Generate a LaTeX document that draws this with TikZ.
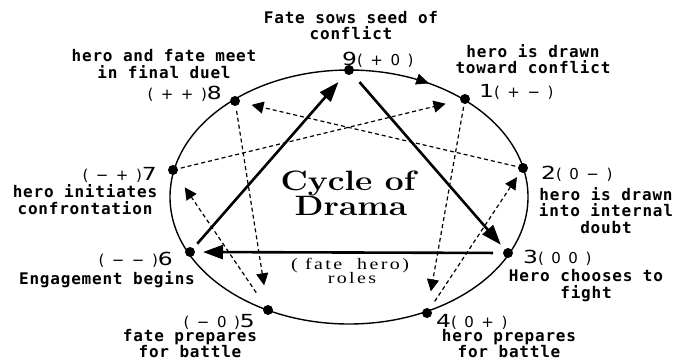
\documentclass[tikz,border=0pt]{standalone}
\usepackage{fontspec}
\usetikzlibrary{arrows.meta,decorations.markings}
\newfontfamily\labf[LetterSpace=5]{DejaVu Sans Mono}
\newfontfamily\numf[FakeStretch=1.3]{DejaVu Sans}
\newfontfamily\parf[LetterSpace=50]{DejaVu Sans}
\newfontfamily\rolef[FakeStretch=1.25,LetterSpace=15]{Liberation Serif}
\newcommand\Dnum[1]{{\numf\fontsize{18}{18}\selectfont #1}}
\newcommand\Psig[1]{{\parf\fontsize{15}{15}\selectfont #1}}
\tikzset{
  lab/.style={font=\labf\bfseries\fontsize{16}{16.5}\selectfont, align=center, inner sep=0pt, anchor=base},
  numlab/.style={inner sep=0pt},
  dot/.style={circle, fill=black, inner sep=0pt, minimum size=10pt},
  hard/.style={line width=2.6pt, -{Triangle[length=20pt,width=14pt]}},
  soft/.style={line width=1.2pt, dash pattern=on 4pt off 3pt, -{Triangle[length=12pt,width=12pt]}},
  title/.style={font=\bfseries\fontsize{28}{28}\selectfont, inner sep=0pt, anchor=base},
  role/.style={font=\rolef\fontsize{16}{16}\selectfont, inner sep=0pt, anchor=base},
}
\begin{document}
\begin{tikzpicture}[x=1pt,y=-1pt]
\useasboundingbox (0,0) rectangle (676,361);
% circle
\draw[line width=1.4pt] (349,197) ellipse [x radius=179, y radius=127];
% dots
\node[dot] (d9) at (349,70) {};
\node[dot] (d1) at (465,99) {};
\node[dot] (d2) at (523,168) {};
\node[dot] (d3) at (508,253) {};
\node[dot] (d4) at (427,313) {};
\node[dot] (d5) at (268,310) {};
\node[dot] (d6) at (190,252) {};
\node[dot] (d7) at (173,170) {};
\node[dot] (d8) at (235,101) {};
% arc arrow 9 -> 1
\path[decoration={markings, mark=at position 0.68 with {\arrow{Triangle[length=13pt,width=11pt]}}}, decorate]
  (d9.center) arc[start angle=-90, end angle=-50, x radius=179, y radius=127];
% triangle
\draw[hard, shorten <=16pt, shorten >=11pt] (d9.center) -- (d3.center);
\draw[hard, shorten <=15pt, shorten >=13pt] (d3.center) -- (d6.center);
\draw[hard, shorten <=11pt, shorten >=16pt] (d6.center) -- (d9.center);
% hexad
\draw[soft, shorten <=8pt, shorten >=22pt] (d1.center) -- (d4.center);
\draw[soft, shorten <=14pt, shorten >=11pt] (d4.center) -- (d2.center);
\draw[soft, shorten <=8pt, shorten >=17pt] (d2.center) -- (d8.center);
\draw[soft, shorten <=10pt, shorten >=25pt] (d8.center) -- (d5.center);
\draw[soft, shorten <=21pt, shorten >=21pt] (d5.center) -- (d7.center);
\draw[soft, shorten <=8pt, shorten >=20pt] (d7.center) -- (d1.center);
% number labels
\node[numlab, anchor=base west] (n9) at (342,65) {\Dnum{9}\Psig{(+0)}};
\node[numlab, anchor=base west] (n1) at (479,97) {\Dnum{1}\Psig{(+−)}};
\node[numlab, anchor=base west] (n2) at (541,179) {\Dnum{2}\Psig{(0−)}};
\node[numlab, anchor=base west] (n3) at (523,263) {\Dnum{3}\Psig{(00)}};
\node[numlab, anchor=base west] (n4) at (436,327) {\Dnum{4}\Psig{(0+)}};
\node[numlab, anchor=base east] (n5) at (255,327) {\Psig{(−0)}\Dnum{5}};
\node[numlab, anchor=base east] (n6) at (173,265) {\Psig{(−−)}\Dnum{6}};
\node[numlab, anchor=base east] (n7) at (157,180) {\Psig{(−+)}\Dnum{7}};
\node[numlab, anchor=base east] (n8) at (222,99) {\Psig{(++)}\Dnum{8}};
% text labels (anchor = baseline of the last line)
\node[lab] (t9) at (351,40) {Fate sows seed of\\conflict};
\node[lab] (t8) at (164,78) {hero and fate meet\\in final duel};
\node[lab] (t1) at (533,74) {hero is drawn\\toward conflict};
\node[lab] (t2) at (606,233) {hero is drawn\\into internal\\doubt};
\node[lab] (t3) at (586,298) {Hero chooses to\\fight};
\node[lab] (t4) at (509,357.5) {hero prepares\\for battle};
\node[lab] (t5) at (190,357.5) {fate prepares\\for battle};
\node[lab] (t6) at (107,284) {Engagement begins};
\node[lab] (t7) at (85,214) {hero initiates\\confrontation};
% center
\node[title] (c1) at (348,190) {\scalebox{1.2}[1]{Cycle of}};
\node[title] (c2) at (351,215) {\scalebox{1.2}[1]{Drama}};
\node[role] (r1) at (350,269) {(~fate~~hero)};
\node[role] (r2) at (352,283) {roles};
\end{tikzpicture}
\end{document}
